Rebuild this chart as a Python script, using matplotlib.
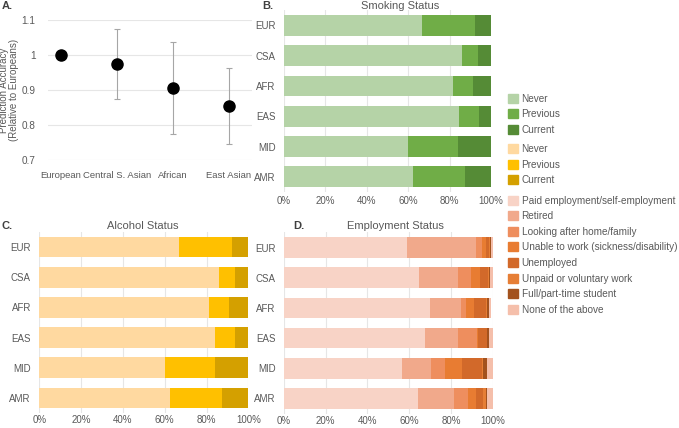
import matplotlib
matplotlib.use('Agg')
import matplotlib.pyplot as plt
import numpy as np

plt.rcParams['font.family'] = ['Liberation Sans', 'DejaVu Sans']

# Panel A data
pop_names = ['European', 'Central S. Asian', 'African', 'East Asian']
accuracy = [1.0, 0.975, 0.905, 0.853]
acc_low = [1.0, 0.875, 0.773, 0.745]
acc_high = [1.0, 1.075, 1.037, 0.963]

groups = ['EUR', 'CSA', 'AFR', 'EAS', 'MID', 'AMR']

smoke_labels = ['Never', 'Previous', 'Current']
smoke_never = [66.7, 85.8, 81.5, 84.4, 59.7, 62.2]
smoke_prev = [25.6, 7.8, 9.6, 9.6, 24.2, 25.2]
smoke_curr = [7.7, 6.4, 8.9, 6.0, 16.1, 12.6]
smoke_colors = ['#b5d3a7', '#70ad47', '#558b36']

alc_labels = ['Never', 'Previous', 'Current']
alc_never = [66.8, 85.8, 81.3, 84.1, 60.0, 62.4]
alc_prev = [25.2, 7.8, 9.6, 9.7, 23.9, 25.0]
alc_curr = [8.0, 6.4, 9.1, 6.2, 16.1, 12.6]
alc_colors = ['#ffd9a0', '#ffc000', '#d4a000']

emp_labels = ['Paid employment/self-employment', 'Retired', 'Looking after home/family',
              'Unable to work (sickness/disability)', 'Unemployed', 'Unpaid or voluntary work',
              'Full/part-time student', 'None of the above']
emp_paid = [59.1, 64.5, 70.0, 67.6, 56.5, 64.1]
emp_retired = [32.9, 19.0, 14.7, 15.9, 13.9, 17.4]
emp_home = [2.7, 6.0, 2.5, 8.8, 6.8, 6.8]
emp_unable = [2.1, 4.4, 3.9, 0.7, 8.3, 3.7]
emp_unemp = [1.4, 3.7, 5.5, 4.1, 9.2, 3.3]
emp_unpaid = [0.5, 0.4, 0.9, 0.4, 0.8, 1.3]
emp_student = [0.4, 0.7, 0.6, 0.5, 1.6, 0.8]
emp_none = [0.9, 1.3, 1.0, 2.0, 2.9, 2.6]
emp_colors = ['#f8d3c6', '#f1a98b', '#ee8e5e', '#e87c32', '#d2692a', '#e67e35', '#a3521e', '#f5bfab']

text_col = '#595959'
grid_col = '#e6e6e6'

fig = plt.figure(figsize=(6.79, 4.28), dpi=100)
W, H = 679.0, 428.0


def px_axes(x0, y0, x1, y1):
    return fig.add_axes([x0 / W, 1 - y1 / H, (x1 - x0) / W, (y1 - y0) / H])


# ---- Panel A ----
axA = px_axes(48, 20, 252, 160)
xs = np.arange(len(pop_names))
err = [np.array(accuracy) - np.array(acc_low), np.array(acc_high) - np.array(accuracy)]
axA.errorbar(xs, accuracy, yerr=err, fmt='none', ecolor='#a6a6a6', elinewidth=0.8,
             capsize=2, capthick=0.8, zorder=2)
axA.plot(xs, accuracy, 'o', color='black', markersize=8, zorder=3)
axA.set_ylim(0.7, 1.1)
axA.set_xlim(-0.232, 3.41)
axA.set_yticks([0.7, 0.8, 0.9, 1.0, 1.1])
axA.set_yticklabels(['0.7', '0.8', '0.9', '1', '1.1'])
axA.set_xticks(xs)
axA.set_xticklabels(pop_names)
axA.grid(axis='y', color=grid_col, linewidth=0.8)
axA.set_axisbelow(True)
for s in axA.spines.values():
    s.set_visible(False)
axA.tick_params(length=0, labelsize=7.2, labelcolor=text_col)
axA.tick_params(axis='x', pad=8, labelsize=6.8)
axA.tick_params(axis='y', pad=9)
fig.text(9 / W, 1 - 90 / H, 'Prediction Accuracy\n(Relative to Europeans)', rotation=90,
         ha='center', va='center', fontsize=7, color=text_col, linespacing=1.05)


def stacked(ax, series, colors):
    y = np.arange(len(groups))
    left = np.zeros(len(groups))
    for vals, c in zip(series, colors):
        ax.barh(y, vals, left=left, height=0.69, color=c, zorder=2)
        left += np.array(vals)
    ax.set_xlim(0, 100)
    ax.set_ylim(len(groups) - 0.5, -0.5)
    ax.set_yticks(y)
    ax.set_yticklabels(groups)
    ax.set_xticks([0, 20, 40, 60, 80, 100])
    ax.set_xticklabels(['0%', '20%', '40%', '60%', '80%', '100%'])
    ax.grid(axis='x', color=grid_col, linewidth=0.8)
    ax.set_axisbelow(True)
    for s in ax.spines.values():
        s.set_visible(False)
    ax.tick_params(length=0, labelsize=7, labelcolor=text_col)
    ax.tick_params(axis='y', pad=6)
    ax.tick_params(axis='x', pad=3)


axB = px_axes(284, 10.3, 491, 192)
stacked(axB, [smoke_never, smoke_prev, smoke_curr], smoke_colors)
axC = px_axes(39.3, 232.0, 248.3, 413.0)
stacked(axC, [alc_never, alc_prev, alc_curr], alc_colors)
axD = px_axes(284, 232.5, 492.7, 413.5)
stacked(axD, [emp_paid, emp_retired, emp_home, emp_unable, emp_unemp, emp_unpaid,
              emp_student, emp_none], emp_colors)
for ax in (axC, axD):
    ax.tick_params(axis='x', pad=1.5)

# titles and panel letters
fig.text(400 / W, 1 - 6 / H, 'Smoking Status', ha='center', va='center', fontsize=8, color=text_col)
fig.text(143 / W, 1 - 226 / H, 'Alcohol Status', ha='center', va='center', fontsize=8, color=text_col)
fig.text(395 / W, 1 - 226 / H, 'Employment Status', ha='center', va='center', fontsize=8, color=text_col)
for lbl, x, y in [('A.', 2, 6), ('B.', 262, 6), ('C.', 2, 226), ('D.', 293, 226)]:
    fig.text(x / W, 1 - y / H, lbl, ha='left', va='center', fontsize=8, fontweight='bold',
             color='#404040')


# legends
def add_legend(labels, colors, top):
    handles = [plt.Rectangle((0, 0), 1, 1, color=c) for c in colors]
    leg = fig.legend(handles, labels, loc='upper left', bbox_to_anchor=(508 / W, 1 - top / H),
                     frameon=False, fontsize=7.2, handlelength=1.0, handleheight=1.0,
                     handletextpad=0.35, labelspacing=0.56, borderpad=0, borderaxespad=0)
    for t in leg.get_texts():
        t.set_color(text_col)


add_legend(smoke_labels, smoke_colors, 93.5)
add_legend(alc_labels, alc_colors, 144)
add_legend(emp_labels, emp_colors, 195.5)

fig.savefig('out.png', dpi=100)
